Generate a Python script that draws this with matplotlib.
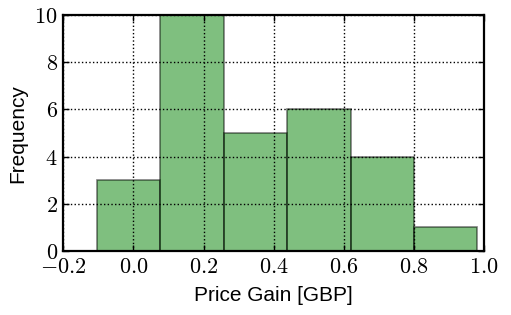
import matplotlib
matplotlib.use("Agg")
import matplotlib.pyplot as plt
import numpy as np

# histogram
bin_edges = [-0.104, 0.077, 0.258, 0.439, 0.620, 0.800, 0.981]
counts = [3, 10, 5, 6, 4, 1]
x_ticks = [-0.2, 0.0, 0.2, 0.4, 0.6, 0.8, 1.0]
y_ticks = [0, 2, 4, 6, 8, 10]

plt.rcParams["mathtext.fontset"] = "cm"
plt.rcParams["font.family"] = ["Liberation Sans", "DejaVu Sans"]

fig = plt.figure(figsize=(5.11, 3.15), dpi=100)
ax = fig.add_axes([0.124, 0.203, 0.823, 0.749])

centers = [(a + b) / 2 for a, b in zip(bin_edges[:-1], bin_edges[1:])]
ax.hist(centers, bins=bin_edges, weights=counts, color="g", alpha=0.5,
        edgecolor="k", linewidth=1.2)

ax.set_xlim(-0.2, 1.0)
ax.set_ylim(0, 10)
ax.set_xticks(x_ticks)
ax.set_yticks(y_ticks)
ax.set_xticklabels([r"$%.1f$" % t for t in x_ticks], fontsize=16)
ax.set_yticklabels([r"$%d$" % t for t in y_ticks], fontsize=16)

ax.grid(True, color="k", linestyle=":", linewidth=1.0)
ax.tick_params(direction="in", top=True, right=True, length=4, width=1, pad=4)
for s in ax.spines.values():
    s.set_linewidth(1.6)

ax.set_xlabel("Price Gain [GBP]", fontsize=15, labelpad=6)
ax.set_ylabel("Frequency", fontsize=15, labelpad=5)

fig.savefig("out.png", dpi=100)
